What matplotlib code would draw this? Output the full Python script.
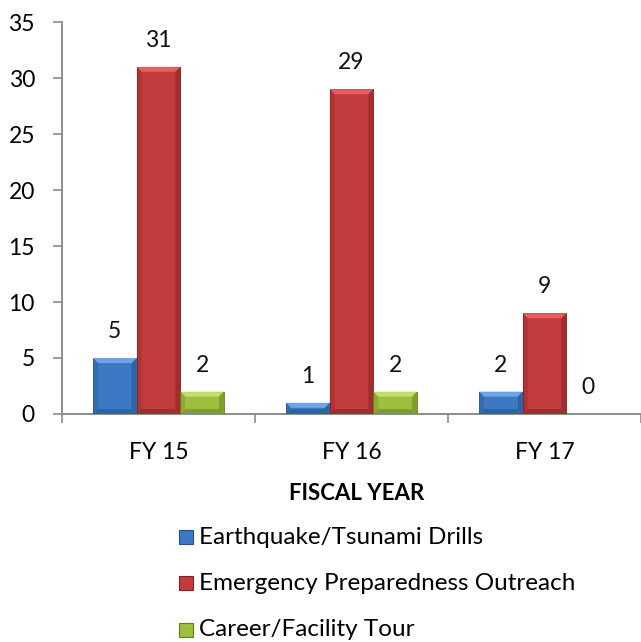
import matplotlib
matplotlib.use("Agg")
import matplotlib.pyplot as plt
import numpy as np
from matplotlib.patches import Rectangle, Polygon

categories = ["FY 15", "FY 16", "FY 17"]
series_names = ["Earthquake/Tsunami Drills", "Emergency Preparedness Outreach", "Career/Facility Tour"]
drills = [5, 1, 2]
outreach = [31, 29, 9]
tour = [2, 2, 0]
colors = ["#3c78c4", "#c23b3d", "#9dbf3c"]
lights = ["#76aae8", "#e86464", "#c6e276"]
darks = ["#24508e", "#84211f", "#627f1f"]

plt.rcParams['font.family'] = ['Lato', 'DejaVu Sans']
FS = 16.5
fig = plt.figure(figsize=(6.41, 6.42), dpi=100)
ax_left, ax_bot, ax_top = 62, 414, 22
ax = fig.add_axes([ax_left/641, (642-ax_bot)/642, 1 - ax_left/641, (ax_bot-ax_top)/642])

ymax = 35
px_per_unit_x = 195.0
px_per_unit_y = (ax_bot - ax_top) / ymax
bev_x = 5 / px_per_unit_x
bev_y = 5 / px_per_unit_y

x = np.arange(len(categories))
w = 0.226
allvals = [drills, outreach, tour]
for i, vals in enumerate(allvals):
    pos = x + (i - 1) * w
    bars = ax.bar(pos, vals, width=w, color=colors[i], edgecolor=darks[i], linewidth=0.6, zorder=3)
    for b in bars:
        x0, y0, bw, bh = b.get_x(), b.get_y(), b.get_width(), b.get_height()
        if bh <= 0:
            continue
        bx = min(bev_x, bw / 2)
        by = min(bev_y, bh / 2)
        x1, y1 = x0 + bw, y0 + bh
        ax.add_patch(Polygon([(x0, y1), (x1, y1), (x1 - bx, y1 - by), (x0 + bx, y1 - by)],
                             closed=True, facecolor=lights[i], edgecolor='none', alpha=0.9, zorder=4))
        ax.add_patch(Polygon([(x0, y0), (x0, y1), (x0 + bx, y1 - by), (x0 + bx, y0 + by)],
                             closed=True, facecolor=darks[i], edgecolor='none', alpha=0.3, zorder=4))
        ax.add_patch(Polygon([(x1, y0), (x1, y1), (x1 - bx, y1 - by), (x1 - bx, y0 + by)],
                             closed=True, facecolor=darks[i], edgecolor='none', alpha=0.5, zorder=4))
        ax.add_patch(Polygon([(x0, y0), (x1, y0), (x1 - bx, y0 + by), (x0 + bx, y0 + by)],
                             closed=True, facecolor=darks[i], edgecolor='none', alpha=0.5, zorder=4))
    for p, v in zip(pos, vals):
        ax.text(p, v + 2.35, str(v), ha='center', va='center', fontsize=FS, color='#111111')

ax.set_ylim(0, ymax)
ax.set_yticks(range(0, 36, 5))
ax.set_xlim(-0.5, -0.5 + (641 - ax_left) / px_per_unit_x)
ax.set_xticks(x)
ax.set_xticklabels(categories)
ax.set_xticks([-0.5, 0.5, 1.5, 2.5], minor=True)
ax.tick_params(axis='x', which='major', length=0, pad=20, labelsize=FS)
ax.tick_params(axis='x', which='minor', length=6.5, color='#8c8c8c', direction='out', width=1.2)
ax.tick_params(axis='y', length=6.5, color='#8c8c8c', labelsize=FS, pad=13, width=1.2)
for s in ['top', 'right']:
    ax.spines[s].set_visible(False)
for s in ['left', 'bottom']:
    ax.spines[s].set_color('#8c8c8c')
    ax.spines[s].set_linewidth(1.4)

fig.text(357/641, 1 - 494/642, "FISCAL YEAR", ha='center', va='center', fontsize=FS - 0.5, fontweight='bold')

legend_y = [537, 583, 630]
for name, c, e, ly in zip(series_names, colors, darks, legend_y):
    fy = 1 - ly / 642
    fig.patches.append(Rectangle((179/641, fy - 7/642), 14/641, 14/642, transform=fig.transFigure,
                                 facecolor=c, edgecolor=e, linewidth=0.8))
    fig.text(199/641, fy, name, ha='left', va='center', fontsize=FS + 1)

fig.savefig("out.png", dpi=100)
